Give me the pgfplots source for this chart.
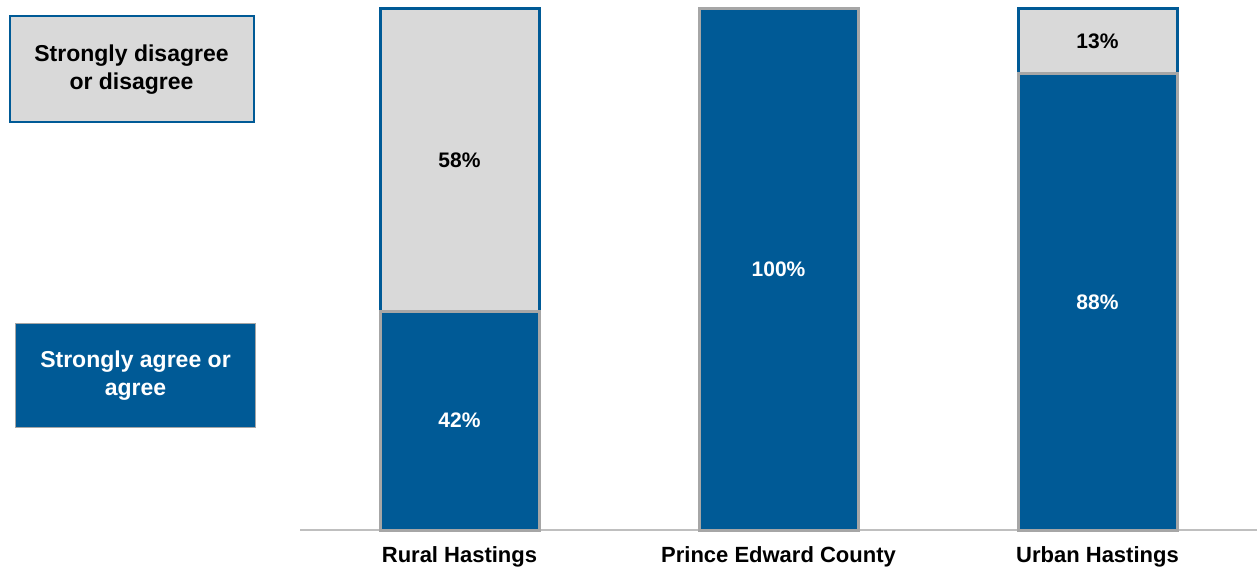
\documentclass[border=0pt]{standalone}
\usepackage{pgfplots}
\pgfplotsset{compat=1.18}
\usepackage{fontspec}
\setmainfont{Liberation Sans}
\definecolor{cblue}{HTML}{005A96}
\definecolor{cgray}{HTML}{D9D9D9}
\definecolor{cborder}{HTML}{A6A6A6}
\definecolor{caxis}{HTML}{BFBFBF}
\begin{document}
\begin{tikzpicture}[x=1pt,y=1pt]
\path[use as bounding box] (0,0) rectangle (1257,571);
% legend boxes
\node[draw=cblue, line width=2pt, fill=cgray, minimum width=244pt, minimum height=106pt, align=center, font=\fontsize{23}{28}\selectfont\bfseries, text=black] at (131.5,571-69.5) {Strongly disagree\\or disagree};
\node[draw=cborder, line width=1.5pt, fill=cblue, minimum width=240pt, minimum height=104pt, align=center, font=\fontsize{23}{28}\selectfont\bfseries, text=white] at (135.5,571-375.5) {Strongly agree or\\agree};
\begin{axis}[
  at={(300pt,41pt)}, anchor=south west,
  scale only axis, width=957pt, height=521pt,
  xmin=-0.5, xmax=2.5, ymin=0, ymax=100,
  ybar stacked, bar width=159pt,
  axis x line=bottom, axis y line=none,
  x axis line style={draw=caxis, line width=1.2pt, -},
  xtick={0,1,2}, xticklabels={Rural Hastings, Prince Edward County, Urban Hastings},
  major tick length=0pt,
  xticklabel style={font=\fontsize{22}{26}\selectfont\bfseries, yshift=-13pt},
  clip=false,
]
\addplot[fill=cblue, draw=cborder, line width=3pt] coordinates {(0,42) (2,87.6)};
\addplot[fill=cgray, draw=cblue, line width=3pt] coordinates {(0,58) (2,12.4)};
\addplot[fill=cblue, draw=cborder, line width=3pt, stack plots=false] coordinates {(1,100)};
\coordinate (l1) at (axis cs:0,21);
\coordinate (l2) at (axis cs:0,71);
\coordinate (l3) at (axis cs:1,50);
\coordinate (l4) at (axis cs:2,43.8);
\coordinate (l5) at (axis cs:2,93.8);
\end{axis}
\begin{scope}[every node/.style={font=\fontsize{21}{24}\selectfont\bfseries}]
\node[text=white] at (l1) {42\%};
\node[text=black] at (l2) {58\%};
\node[text=white] at (l3) {100\%};
\node[text=white] at (l4) {88\%};
\node[text=black] at (l5) {13\%};
\end{scope}
\end{tikzpicture}
\end{document}
